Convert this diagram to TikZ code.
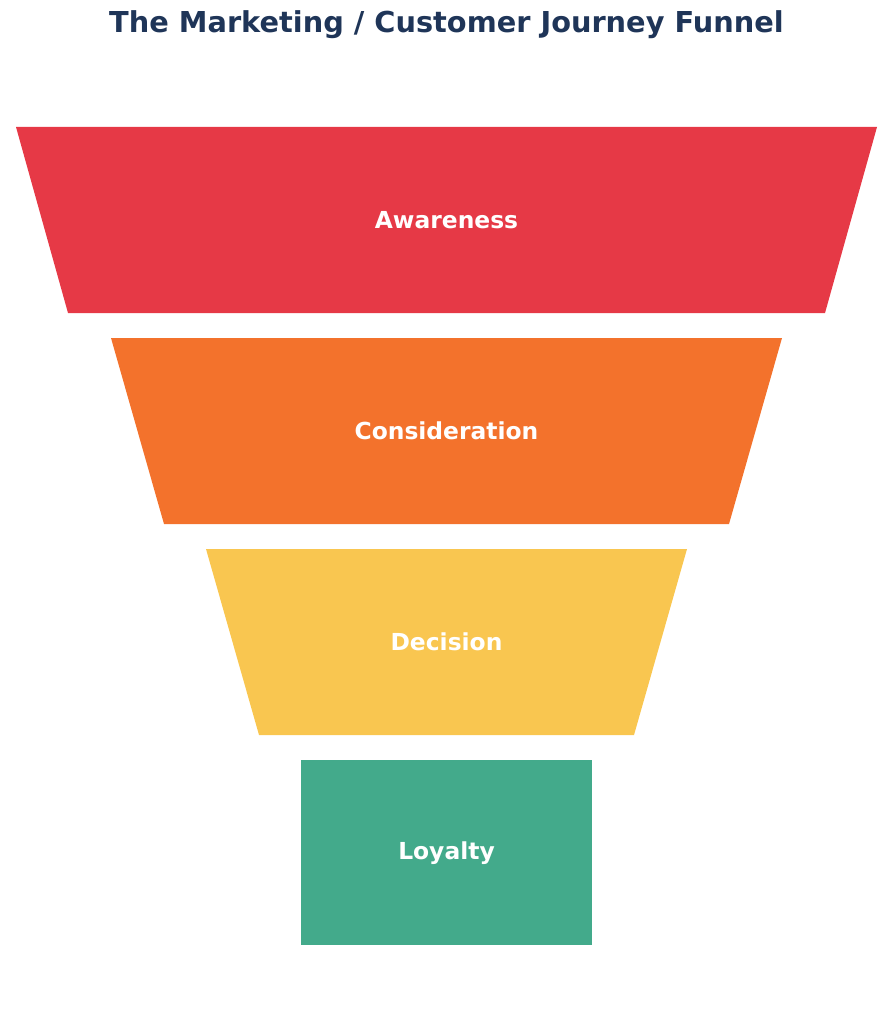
\documentclass[tikz,border=0pt]{standalone}
\usepackage{fontspec}
\setmainfont{DejaVu Sans}
\usetikzlibrary{positioning}
\definecolor{titleblue}{HTML}{1F3558}
\definecolor{stagered}{HTML}{E63946}
\definecolor{stageorange}{HTML}{F3722C}
\definecolor{stageyellow}{HTML}{F9C650}
\definecolor{stagegreen}{HTML}{43AA8B}
\begin{document}
\begin{tikzpicture}[x=1pt,y=-1pt,
				label/.style={text=white,font=\bfseries\fontsize{23.4}{26}\selectfont}]
				\useasboundingbox (0,0) rectangle (893,1024);
				\node (TITLE) [text=titleblue,font=\bfseries\fontsize{28.8}{32}\selectfont] at (446.5,25) {The Marketing / Customer Journey Funnel};
				
				\fill[stagered]    (16,127) -- (877,127) -- (825,313) -- (68,313) -- cycle;
				\fill[stageorange] (111,338) -- (782,338) -- (729,524) -- (164,524) -- cycle;
				\fill[stageyellow] (206,549) -- (687,549) -- (634,735) -- (259,735) -- cycle;
				\fill[stagegreen]  (301,760) rectangle (592,945);
				
				\node (AWARE) [label] at (446.5,220) {Awareness};
				\node (CONS)  [label] at (446.5,431) {Consideration};
				\node (DEC)   [label] at (446.5,642) {Decision};
				\node (LOYAL) [label] at (446.5,853) {Loyalty};
			\end{tikzpicture}
\end{document}
